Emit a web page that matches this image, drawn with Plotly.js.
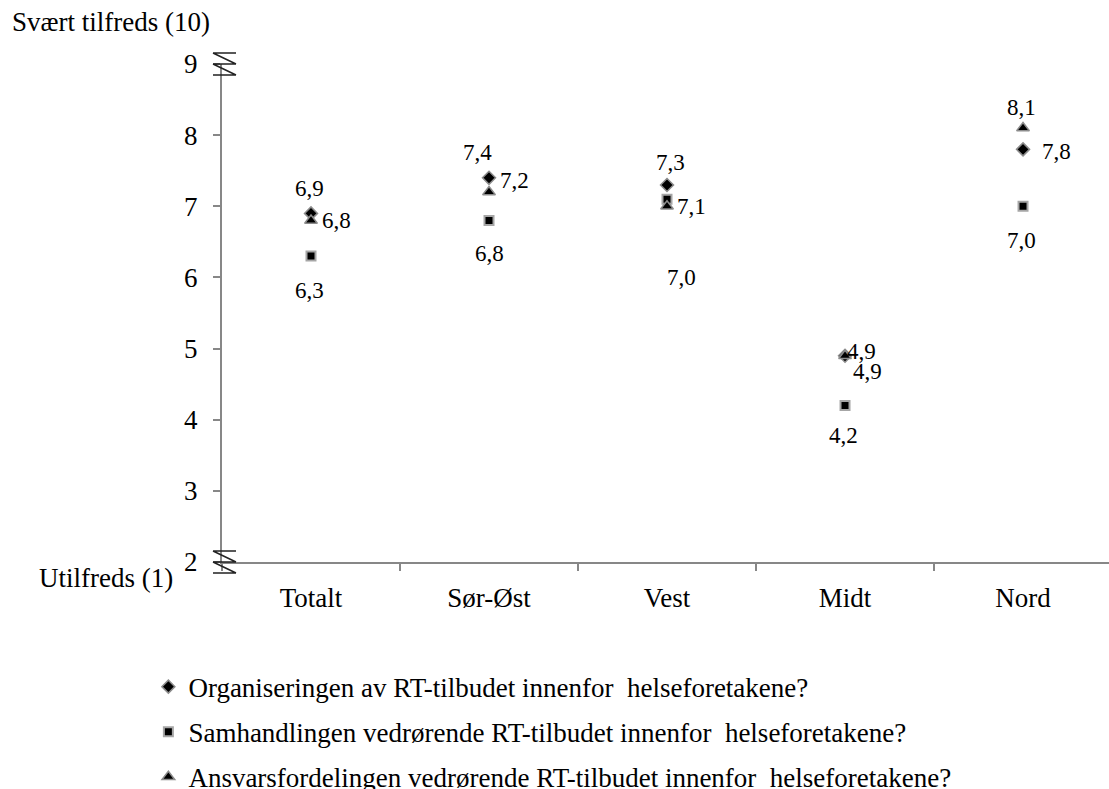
<!DOCTYPE html>
<html>
<head>
<meta charset="utf-8">
<script src="https://cdn.plot.ly/plotly-3.0.1.min.js"></script>
<style>
  html, body { margin: 0; padding: 0; background: #ffffff; }
  #chart { width: 1109px; height: 789px; }
</style>
</head>
<body>
<div id="chart"></div>
<script>
// Regions
const regions = ["Totalt", "Sør-Øst", "Vest", "Midt", "Nord"];

// Mean satisfaction scores (scale 1–10) per question
const organisering = [6.9, 7.4, 7.3, 4.9, 7.8];
const samhandling  = [6.3, 6.8, 7.1, 4.2, 7.0];
const ansvar       = [6.8, 7.2, 7.0, 4.9, 8.1];

// Question texts (legend)
const questions = [
  "Organiseringen av RT-tilbudet innenfor \u00a0helseforetakene?",
  "Samhandlingen vedrørende RT-tilbudet innenfor \u00a0helseforetakene?",
  "Ansvarsfordelingen vedrørende RT-tilbudet innenfor \u00a0helseforetakene?"
];

// Y axis
const yTicks = [2, 3, 4, 5, 6, 7, 8, 9];
const yTop = "Svært tilfreds (10)";
const yBottom = "Utilfreds (1)";

// Value label offsets in pixels [dx, dy] (dy positive = up)
const offOrg = [[-2, 25], [-12, 25], [3, 22], [16, 4], [33, -2]];
const offSam = [[-2, -34], [0, -33], [24, -7], [-2, -30], [-2, -34]];
const offAns = [[25, 0], [25, 12], [14, -71], [22, -16], [-2, 21]];

const FONT = "'Liberation Serif', 'Times New Roman', serif";
const SIZE = 27;        // axis, caption and legend text
const LABEL_SIZE = 23;  // value labels

function fmt(v) { return v.toFixed(1).replace(".", ","); }

const traces = [
  {
    name: questions[0], x: regions, y: organisering, type: "scatter", mode: "markers",
    legendgroup: "a",
    marker: { symbol: "diamond", size: 10, color: "#000000", line: { color: "#8c8c8c", width: 1.5 } }
  },
  {
    name: questions[1], x: regions, y: samhandling, type: "scatter", mode: "markers",
    legendgroup: "b",
    marker: { symbol: "square", size: 9, color: "#000000", line: { color: "#a6a6a6", width: 2 } }
  },
  {
    name: questions[2], x: regions, y: ansvar, type: "scatter", mode: "markers",
    legendgroup: "c",
    marker: { symbol: "triangle-up", size: 11, color: "#000000", line: { color: "#8c8c8c", width: 1.5 } }
  }
];

const annotations = [];
function addLabels(vals, offs) {
  vals.forEach((v, i) => {
    annotations.push({
      x: regions[i], y: v, xref: "x", yref: "y", text: fmt(v), showarrow: false,
      xshift: offs[i][0], yshift: offs[i][1],
      font: { family: FONT, size: LABEL_SIZE, color: "#000000" }
    });
  });
}
addLabels(organisering, offOrg);
addLabels(samhandling, offSam);
addLabels(ansvar, offAns);

// End-of-scale captions
annotations.push({
  text: yTop, xref: "paper", yref: "y", x: -0.239, y: yTicks[yTicks.length - 1],
  xanchor: "left", yshift: 42, showarrow: false,
  font: { family: FONT, size: SIZE, color: "#000000" }
});
annotations.push({
  text: yBottom, xref: "paper", yref: "y", x: -0.053, y: yTicks[0],
  xanchor: "right", yshift: -16, showarrow: false,
  font: { family: FONT, size: SIZE, color: "#000000" }
});

// Axis break marks at both ends of the value axis (paper refs so they are not clipped)
function breakMark(yPaper) {
  return {
    type: "path", xref: "paper", yref: "paper",
    xsizemode: "pixel", ysizemode: "pixel", xanchor: 0, yanchor: yPaper,
    path: "M-9,11 L14,11 M-9,11 L14,0 M-9,0 L14,0 M-9,0 L14,-11 M-9,-11 L14,-11",
    line: { color: "#222222", width: 1.5 }
  };
}

const layout = {
  width: 1109, height: 789,
  margin: { l: 222, r: 0, t: 64, b: 227, autoexpand: false },
  paper_bgcolor: "#ffffff", plot_bgcolor: "#ffffff",
  font: { family: FONT, size: SIZE, color: "#000000" },
  showlegend: true,
  legend: {
    x: -0.083, y: -0.202, xanchor: "left", yanchor: "top",
    orientation: "v", tracegroupgap: 7,
    font: { family: FONT, size: SIZE, color: "#000000" },
    bgcolor: "rgba(0,0,0,0)"
  },
  xaxis: {
    type: "category", range: [-0.5, 4.483],
    showgrid: false, zeroline: false,
    showline: true, linecolor: "#878787", linewidth: 2,
    ticks: "outside", tickson: "boundaries", ticklen: 7, tickcolor: "#878787", tickwidth: 2,
    ticklabelstandoff: 11,
    tickfont: { family: FONT, size: SIZE, color: "#000000" },
    fixedrange: true
  },
  yaxis: {
    range: [2, 9], tickvals: yTicks, ticktext: yTicks.map(String),
    showgrid: false, zeroline: false,
    showline: true, linecolor: "#878787", linewidth: 2,
    ticks: "outside", ticklen: 7, tickcolor: "#878787", tickwidth: 2,
    ticklabelstandoff: 10,
    tickfont: { family: FONT, size: SIZE, color: "#000000" },
    fixedrange: true
  },
  shapes: [breakMark(1), breakMark(0)],
  annotations: annotations
};

Plotly.newPlot("chart", traces, layout, { displayModeBar: false, staticPlot: true });
</script>
</body>
</html>
